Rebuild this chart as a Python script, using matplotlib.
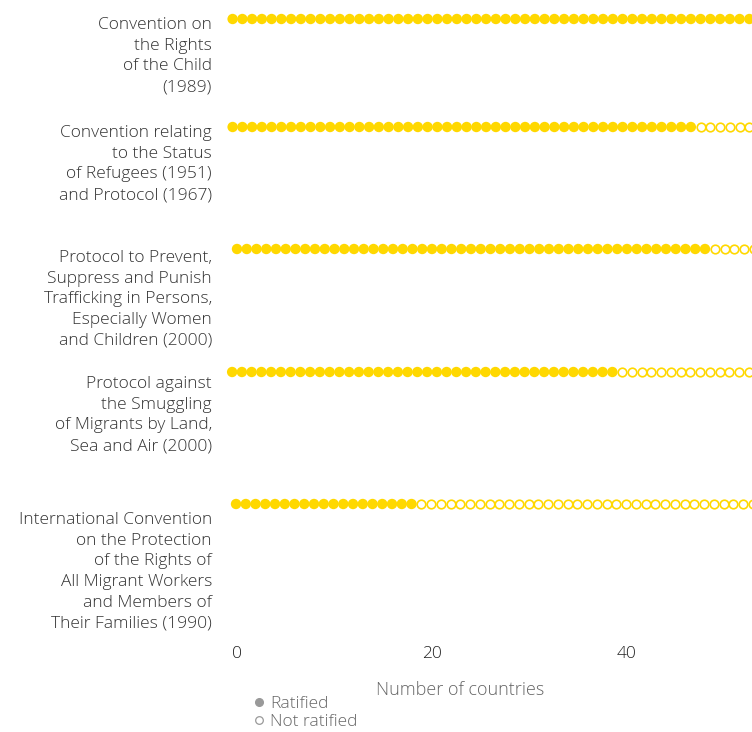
import matplotlib
matplotlib.use("Agg")
import matplotlib.pyplot as plt
from matplotlib.lines import Line2D
import numpy as np

plt.rcParams['font.family'] = ['Open Sans', 'DejaVu Sans']

instruments = [
    "Convention on\nthe Rights\nof the Child\n(1989)",
    "Convention relating\nto the Status\nof Refugees (1951)\nand Protocol (1967)",
    "Protocol to Prevent,\nSuppress and Punish\nTrafficking in Persons,\nEspecially Women\nand Children (2000)",
    "Protocol against\nthe Smuggling\nof Migrants by Land,\nSea and Air (2000)",
    "International Convention\non the Protection\nof the Rights of\nAll Migrant Workers\nand Members of\nTheir Families (1990)",
]
ratified = [54, 48, 49, 40, 19]
not_ratified = [0, 6, 5, 14, 35]

# layout (pixel rows, small horizontal offsets of the dot rows)
W, H = 752, 732
row_y = [19, 127, 249, 372, 504]
row_dx = [-0.45, -0.45, 0.0, -0.5, -0.1]
label_top = [17, 125, 250, 376, 512]

GOLD = '#FFD800'
FW = 'light'

fig = plt.figure(figsize=(W/100, H/100), dpi=100)
ax_left, ax_right, ax_top, ax_bot = 222, 752, 0, 640
ax = fig.add_axes([ax_left/W, 1-ax_bot/H, (ax_right-ax_left)/W, (ax_bot-ax_top)/H])
ax.set_ylim(ax_bot, ax_top)
x0px, unit = 237, 9.75
ax.set_xlim((ax_left-x0px)/unit, (ax_right-x0px)/unit)

for i in range(len(instruments)):
    n_r, n_n = ratified[i], not_ratified[i]
    xr = np.arange(n_r) + row_dx[i]
    xn = np.arange(n_r, n_r+n_n) + row_dx[i]
    ax.scatter(xr, np.full(n_r, row_y[i]), s=56, color=GOLD, edgecolors='none',
               zorder=3, clip_on=True)
    if n_n:
        ax.scatter(xn, np.full(n_n, row_y[i]), s=38, facecolors='white',
                   edgecolors=GOLD, linewidths=1.2, zorder=3, clip_on=True)
    fig.text(212/W, 1-label_top[i]/H, instruments[i], ha='right', va='top',
             fontsize=12.5, color='#333333', linespacing=1.39, fontweight=FW)

for s in ax.spines.values():
    s.set_visible(False)
ax.set_yticks([])
ax.set_xticks([0, 20, 40])
ax.tick_params(axis='x', length=0, pad=4, labelsize=12.5, labelcolor='#222222')
for t in ax.get_xticklabels():
    t.set_fontweight(FW)

fig.text(460/W, 1-690/H, "Number of countries", ha='center', va='center',
         fontsize=13, color='#666666', fontweight=FW)

handles = [
    Line2D([], [], marker='o', linestyle='none', markersize=5.5,
           markerfacecolor='#999999', markeredgecolor='#999999'),
    Line2D([], [], marker='o', linestyle='none', markersize=5.5,
           markerfacecolor='white', markeredgecolor='#999999', markeredgewidth=0.9),
]
leg = fig.legend(handles, ["Ratified", "Not ratified"], loc='upper left',
           bbox_to_anchor=(250/W, 1-696/H), frameon=False, fontsize=12.5,
           labelcolor='#666666', handletextpad=0.15, labelspacing=0.12,
           handlelength=1.0, borderpad=0, borderaxespad=0)
for t in leg.get_texts():
    t.set_fontweight(FW)

fig.savefig("out.png", dpi=100)
